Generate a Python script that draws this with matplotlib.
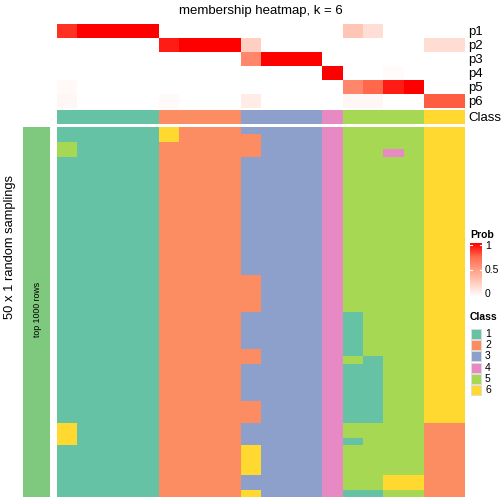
import numpy as np
import matplotlib
matplotlib.use("Agg")
import matplotlib.pyplot as plt
from matplotlib.colors import LinearSegmentedColormap, ListedColormap
from matplotlib.patches import Rectangle

plt.rcParams['font.family'] = ['Liberation Sans', 'DejaVu Sans']

# membership probabilities, one list per row, 20 columns
p1 = [0.88, 1, 1, 1, 1, 0, 0, 0, 0, 0, 0, 0, 0, 0, 0.3, 0.17, 0, 0, 0, 0]
p2 = [0, 0, 0, 0, 0, 0.93, 1, 1, 1, 0.25, 0, 0, 0, 0, 0, 0, 0, 0, 0.18, 0.18]
p3 = [0, 0, 0, 0, 0, 0, 0, 0, 0, 0.62, 1, 1, 1, 0, 0, 0, 0, 0, 0, 0]
p4 = [0, 0, 0, 0, 0, 0, 0, 0, 0, 0, 0, 0, 0, 1, 0, 0, 0.02, 0, 0, 0]
p5 = [0.03, 0, 0, 0, 0, 0, 0, 0, 0, 0, 0, 0, 0, 0, 0.62, 0.75, 0.93, 1, 0, 0]
p6 = [0.04, 0, 0, 0, 0, 0.03, 0, 0, 0, 0.1, 0, 0, 0, 0, 0.04, 0.04, 0, 0, 0.78, 0.78]
row_names = ["p1", "p2", "p3", "p4", "p5", "p6"]

consensus_class = "11111 2222 3333 4 5555 66"

# class of each column in each of the 50 samplings
samplings = (
    ["11111 6222 3333 4 5555 66",
     "11111 6222 2333 4 5555 66",
     "51111 2222 2333 4 5555 66",
     "51111 2222 2333 4 5545 66"]
    + ["11111 2222 3333 4 5555 66"] * 16
    + ["11111 2222 2333 4 5555 66"] * 5
    + ["11111 2222 3333 4 1555 66"] * 5
    + ["11111 2222 2333 4 1555 66",
       "11111 2222 2333 4 5155 66"]
    + ["11111 2222 3333 4 1155 66"] * 5
    + ["11111 2222 2333 4 1155 66"] * 3
    + ["61111 2222 3333 4 5555 22"] * 2
    + ["61111 2222 3333 4 1555 22"]
    + ["11111 2222 6333 4 5555 22"] * 4
    + ["11111 2222 3333 4 5566 22"] * 2
    + ["11111 2222 6333 4 1155 22"]
)

class_labels = ["1", "2", "3", "4", "5", "6"]
class_colors = ["#66C2A5", "#FC8D62", "#8DA0CB", "#E78AC3", "#A6D854", "#FFD92F"]


def to_codes(s):
    return [int(ch) - 1 for ch in s.replace(" ", "")]


prob = np.array([p1, p2, p3, p4, p5, p6])
cons = np.array([to_codes(consensus_class)])
samp = np.array([to_codes(s) for s in samplings])

prob_cmap = LinearSegmentedColormap.from_list(
    "prob", ["#FFFFFF", "#FFD0C2", "#FFA086", "#FF6A4C", "#FF0000"])
class_cmap = ListedColormap(class_colors)

W = H = 504
fig = plt.figure(figsize=(5.04, 5.04), dpi=100)


def px_axes(x0, y0, x1, y1):
    # pixel box (top-left origin) -> figure axes
    ax = fig.add_axes([x0 / W, 1 - y1 / H, (x1 - x0) / W, (y1 - y0) / H])
    ax.set_axis_off()
    return ax


# top membership heatmap
ax = px_axes(57, 24, 465, 108)
ax.imshow(prob, cmap=prob_cmap, vmin=0, vmax=1, aspect="auto", interpolation="nearest")
for i, name in enumerate(row_names):
    fig.text(468 / W, 1 - (24 + 14 * i + 7.5) / H, name, fontsize=9.5, va="center", ha="left")

# consensus class row
ax = px_axes(57, 110, 465, 124)
ax.imshow(cons, cmap=class_cmap, vmin=-0.5, vmax=5.5, aspect="auto", interpolation="nearest")
fig.text(468 / W, 1 - 117.5 / H, "Class", fontsize=9.5, va="center", ha="left")

# sampling heatmap
ax = px_axes(57, 127, 465, 497)
ax.imshow(samp, cmap=class_cmap, vmin=-0.5, vmax=5.5, aspect="auto", interpolation="nearest")

# left annotation bar
ax = px_axes(23, 127, 50, 497)
ax.add_patch(Rectangle((0, 0), 1, 1, color="#7FC97F"))
ax.set_xlim(0, 1)
ax.set_ylim(0, 1)
fig.text(37 / W, 1 - 309 / H, "top 1000 rows", rotation=90, fontsize=6.3, ha="center", va="center")
fig.text(10 / W, 1 - 247 / H, "50 x 1 random samplings", rotation=90, fontsize=9.3,
         ha="center", va="center")

# title
fig.text(261 / W, 1 - 11 / H, "membership heatmap, k = 6", fontsize=9.5, ha="center", va="center")

# Prob legend
fig.text(470 / W, 1 - 235 / H, "Prob", fontsize=7.5, fontweight="bold", ha="left", va="center")
ax = px_axes(470, 243, 482, 297)
grad = np.linspace(1, 0, 100).reshape(-1, 1)
ax.imshow(grad, cmap=prob_cmap, vmin=0, vmax=1, aspect="auto", extent=(0, 1, 0, 1))
ax.set_xlim(0, 1)
ax.set_ylim(0, 1)
for v in [0.5, 1.0]:
    yy = 0.03 + 0.94 * v
    ax.plot([0, 0.2], [yy, yy], color="white", lw=0.8)
    ax.plot([0.8, 1], [yy, yy], color="white", lw=0.8)
for v, lab in [(1, "1"), (0.5, "0.5"), (0, "0")]:
    yy = 297 - 3 - 48 * v
    fig.text(485 / W, 1 - yy / H, lab, fontsize=7.5, ha="left", va="center")

# Class legend
fig.text(470 / W, 1 - 317 / H, "Class", fontsize=7.5, fontweight="bold", ha="left", va="center")
ax = px_axes(470, 328, 482, 396)
ax.set_xlim(0, 1)
ax.set_ylim(6, 0)
for i, (lab, col) in enumerate(zip(class_labels, class_colors)):
    ax.add_patch(Rectangle((0.05, i + 0.05), 0.9, 0.9, facecolor=col, edgecolor="#DDDDDD", lw=0.6))
    fig.text(485 / W, 1 - (328 + 11.3 * i + 5.8) / H, lab, fontsize=7.5, ha="left", va="center")

fig.savefig("out.png", dpi=100)
